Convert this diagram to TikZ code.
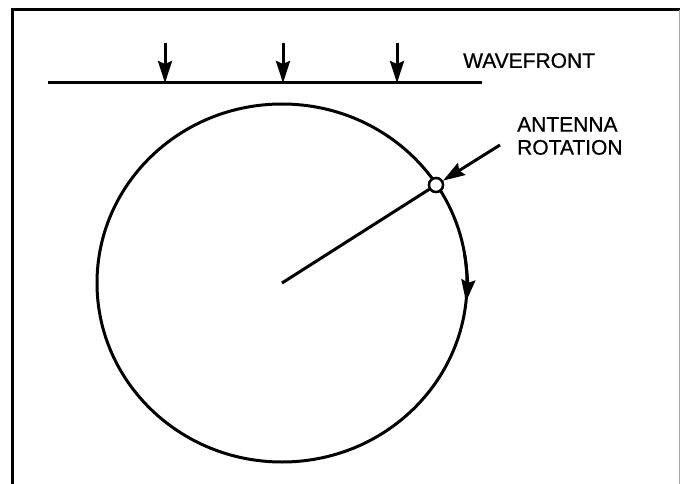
\documentclass[tikz,border=0pt]{standalone}
\usepackage{fontspec}
\setmainfont{Liberation Sans}
\newfontfamily\labelfont[FakeBold=0.8]{Liberation Sans}
\usetikzlibrary{arrows.meta, calc}
\begin{document}
\begin{tikzpicture}[
  x=1pt, y=-1pt,
  line/.style={line width=3pt, black},
  arr/.style={line width=3pt, -{Stealth[length=22pt, width=14pt, inset=3pt]}},
  label/.style={font=\labelfont\fontsize{21}{23}\selectfont, align=left, inner sep=0pt},
  pivot/.style={circle, draw=black, fill=white, line width=2.4pt, minimum size=14pt, inner sep=0pt}
]
\useasboundingbox (0,0) rectangle (680,484);

% === Frame ===
\draw[line] (12,484) -- (12,10) -- (680,10);
\draw[line width=1pt, black!35] (679,10) -- (679,484);

% === Coordinates ===
\coordinate (C)  at (282,283);   % centre of rotation
\coordinate (WL) at (48,83);     % wavefront left
\coordinate (WR) at (482,83);    % wavefront right
\coordinate (T)  at (500,145);   % tail of pointer arrow

% === Wavefront ===
\draw[line] (WL) -- (WR);
\foreach \x [count=\i] in {165,283,397} {
  \coordinate (w\i) at (\x,43);
  \coordinate (f\i) at (\x,83);
  \draw[arr] (w\i) -- (f\i);
}

% === Antenna circle and arm ===
\draw[line] (C) ellipse [x radius=185, y radius=179];
\node[pivot] (ant) at (436,185) {};
\draw[line] (C) -- (ant);
\node[pivot] at (ant) {};

% === Rotation arrow ===
\coordinate (R1) at ($(C)+(-9:185 and 179)$);
\draw[arr] (R1) arc[start angle=-9, end angle=6, x radius=185, y radius=179];

% === Labels ===
\node[label, anchor=north west] (wave) at (463,53) {WAVEFRONT};
\node[label, anchor=north west] (rot) at (517,117) {ANTENNA\\ROTATION};
\draw[arr] (T) -- (ant);

\end{tikzpicture}
\end{document}
